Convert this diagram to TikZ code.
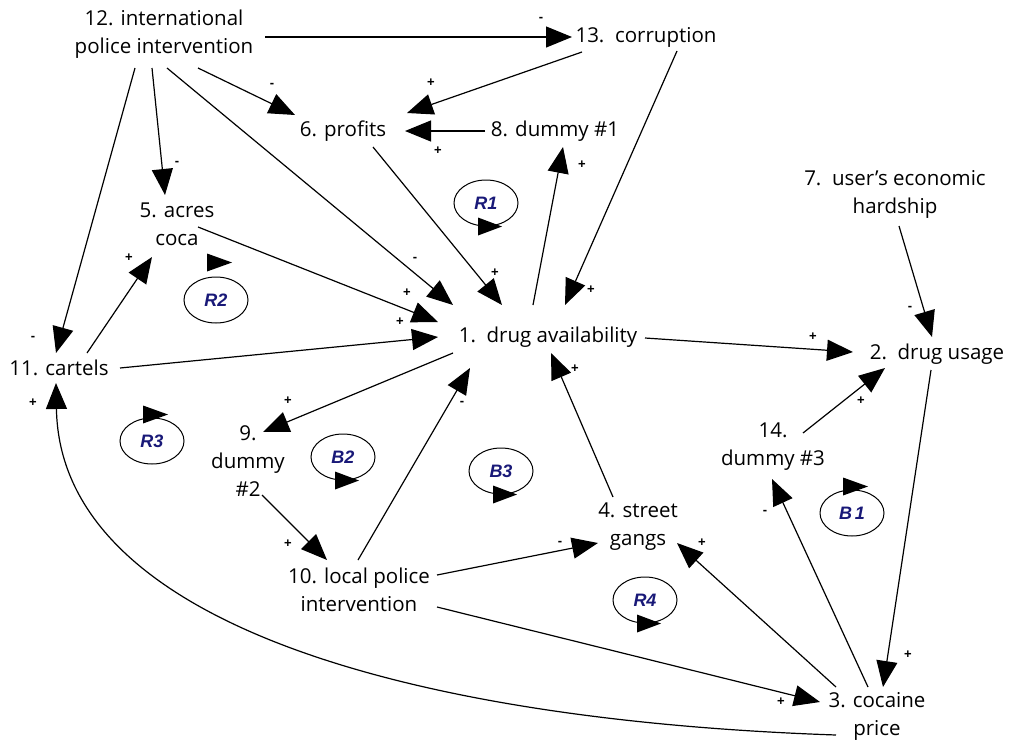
\documentclass[tikz,border=0pt]{standalone}
\usepackage{fontspec}
\setmainfont{Open Sans}
\newfontfamily\loopfont{Liberation Sans}
\usetikzlibrary{arrows.meta,shapes.geometric}
\definecolor{loopblue}{RGB}{25,25,120}
\begin{document}
\begin{tikzpicture}[x=1pt,y=-1pt,
  var/.style={align=center,font=\fontsize{20.5}{28}\selectfont,inner sep=0pt},
  lnk/.style={line width=1.2pt,-{Triangle[length=26pt,width=21pt]}},
  sgn/.style={font=\loopfont\fontsize{13}{13}\selectfont\bfseries,inner sep=0pt},
  loopc/.style={ellipse,draw,line width=1pt,minimum width=64pt,minimum height=46pt,inner sep=0pt,
    font=\loopfont\fontsize{18}{18}\selectfont\bfseries\itshape,text=loopblue}]
\useasboundingbox (0,0) rectangle (1010,742);
\fill[white] (0,0) rectangle (1010,742);
% variables
\node[var] (n12) at (164,34) {12. international\\police intervention};
\node[var] (n13) at (646,37) {13.\ \ corruption};
\node[var] (n6) at (343,131) {6. profits};
\node[var] (n8) at (555,131) {8. dummy \#1};
\node[var] (n5) at (177,224) {5. acres\\coca};
\node[var] (n7) at (895,194) {7.\ \ user’s economic\\hardship};
\node[var] (n1) at (548,337) {1.\ \ drug availability};
\node[var] (n2) at (937,354) {2.\ \ drug usage};
\node[var] (n11) at (59,368) {11. cartels};
\node[var] (n9) at (248,461) {9.\\dummy\\\#2};
\node[var] (n14) at (773,447) {14.\\dummy \#3};
\node[var] (n4) at (638,527) {4. street\\gangs};
\node[var] (n10) at (359,590) {10. local police\\intervention};
\node[var] (n3) at (877,716) {3. cocaine\\price};
% links
\draw[lnk] ([shift={(101,3)}]n12.center) -- ([shift={(-74,0)}]n13.center);
\draw[lnk] ([shift={(34,34)}]n12.center) -- ([shift={(-48,-16)}]n6.center);
\draw[lnk] ([shift={(-12,34)}]n12.center) -- ([shift={(-12,-29)}]n5.center);
\draw[lnk] ([shift={(3,34)}]n12.center) -- ([shift={(-95,-32)}]n1.center);
\draw[lnk] ([shift={(-29,34)}]n12.center) -- ([shift={(-3,-15)}]n11.center);
\draw[lnk] ([shift={(-64,15)}]n13.center) -- ([shift={(64,-18)}]n6.center);
\draw[lnk] ([shift={(-70,0)}]n8.center) -- ([shift={(62,0)}]n6.center);
\draw[lnk] ([shift={(-15,-32)}]n1.center) -- ([shift={(8,16)}]n8.center);
\draw[lnk] ([shift={(31,14)}]n13.center) -- ([shift={(17,-32)}]n1.center);
\draw[lnk] ([shift={(30,16)}]n6.center) -- ([shift={(-46,-32)}]n1.center);
\draw[lnk] ([shift={(21,3)}]n5.center) -- ([shift={(-110,-15)}]n1.center);
\draw[lnk] ([shift={(61,0)}]n11.center) -- ([shift={(-110,0)}]n1.center);
\draw[lnk] ([shift={(28,-15)}]n11.center) -- ([shift={(-25,33)}]n5.center);
\draw[lnk] ([shift={(-95,16)}]n1.center) -- ([shift={(15,-29)}]n9.center);
\draw[lnk] ([shift={(14,34)}]n9.center) -- ([shift={(-32,-30)}]n10.center);
\draw[lnk] ([shift={(-1,-30)}]n10.center) -- ([shift={(-78,31)}]n1.center);
\draw[lnk] ([shift={(-25,-30)}]n4.center) -- ([shift={(3,16)}]n1.center);
\draw[lnk] ([shift={(97,1)}]n1.center) -- ([shift={(-84,-2)}]n2.center);
\draw[lnk] ([shift={(4,32)}]n7.center) -- ([shift={(-5,-17)}]n2.center);
\draw[lnk] ([shift={(30,-14)}]n14.center) -- ([shift={(-52,14)}]n2.center);
\draw[lnk] ([shift={(-6,16)}]n2.center) -- ([shift={(6,-29)}]n3.center);
\draw[lnk] ([shift={(-9,-29)}]n3.center) -- ([shift={(-1,32)}]n14.center);
\draw[lnk] ([shift={(-41,-29)}]n3.center) -- ([shift={(39,16)}]n4.center);
\draw[lnk] ([shift={(78,-15)}]n10.center) -- ([shift={(-40,16)}]n4.center);
\draw[lnk] ([shift={(78,17)}]n10.center) -- ([shift={(-57,-14)}]n3.center);
\draw[lnk] ([shift={(-41,19)}]n3.center) .. controls (400,720) and (60,620) .. ([shift={(-3,15)}]n11.center);
% signs
\node[sgn] (s1) at (541,19) {-};
\node[sgn] (s2) at (272,85) {-};
\node[sgn] (s3) at (177,163) {-};
\node[sgn] (s4) at (415,259) {-};
\node[sgn] (s5) at (33,338) {-};
\node[sgn] (s6) at (431,83) {+};
\node[sgn] (s7) at (438,151) {+};
\node[sgn] (s8) at (582,165) {+};
\node[sgn] (s9) at (591,290) {+};
\node[sgn] (s10) at (495,273) {+};
\node[sgn] (s11) at (407,293) {+};
\node[sgn] (s12) at (400,322) {+};
\node[sgn] (s13) at (129,258) {+};
\node[sgn] (s14) at (288,401) {+};
\node[sgn] (s15) at (288,544) {+};
\node[sgn] (s16) at (462,403) {-};
\node[sgn] (s17) at (575,369) {+};
\node[sgn] (s18) at (813,337) {+};
\node[sgn] (s19) at (910,308) {-};
\node[sgn] (s20) at (861,401) {+};
\node[sgn] (s21) at (908,655) {+};
\node[sgn] (s22) at (765,512) {-};
\node[sgn] (s23) at (702,543) {+};
\node[sgn] (s24) at (560,543) {-};
\node[sgn] (s25) at (781,702) {+};
\node[sgn] (s26) at (33,403) {+};
% loops
\node[loopc] (R1) at (486,203) {R1};
\fill ([shift={(-8,-9)}]R1.south) -- ++(0,18) -- ++(24,-9) -- cycle;
\node[loopc] (R2) at (216,300) {R2};
\fill ([shift={(-9,-5)}]R2.north) -- ++(0,-18) -- ++(25,9) -- cycle;
\node[loopc] (R3) at (152,441) {R3};
\fill ([shift={(-9,6)}]R3.north) -- ++(0,-18) -- ++(25,9) -- cycle;
\node[loopc] (B2) at (343,457) {B2};
\fill ([shift={(-8,-9)}]B2.south) -- ++(0,18) -- ++(24,-9) -- cycle;
\node[loopc] (B3) at (501,471) {B3};
\fill ([shift={(-8,-9)}]B3.south) -- ++(0,18) -- ++(24,-9) -- cycle;
\node[loopc] (R4) at (645,600) {R4};
\fill ([shift={(-8,-9)}]R4.south) -- ++(0,18) -- ++(24,-9) -- cycle;
\node[loopc] (B1) at (852,513) {B\,1};
\fill ([shift={(-9,6)}]B1.north) -- ++(0,-18) -- ++(25,9) -- cycle;
\end{tikzpicture}
\end{document}
